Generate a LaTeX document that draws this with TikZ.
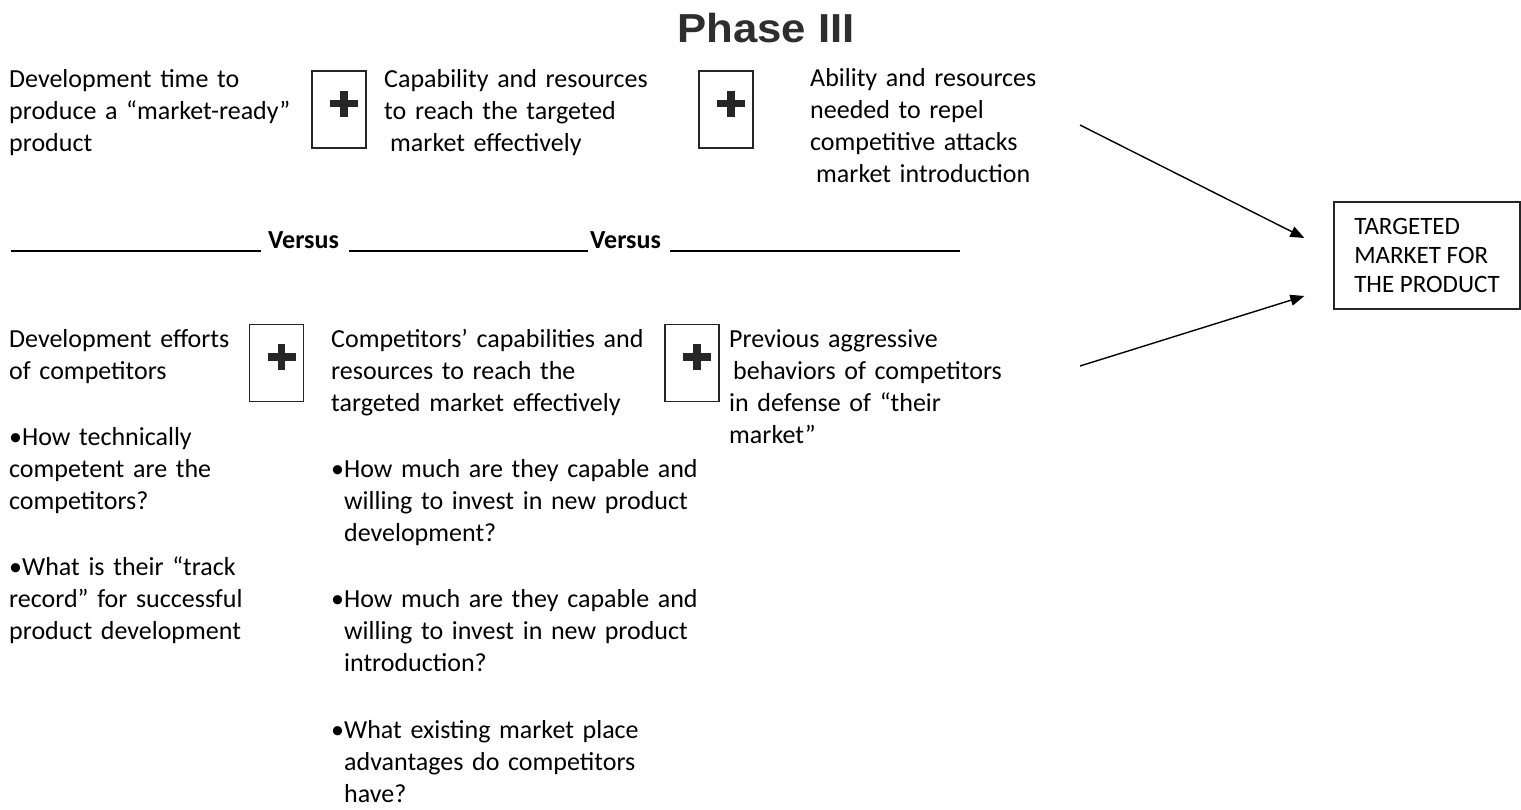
\documentclass[tikz,border=0pt]{standalone}
\usepackage{fontspec}
\setmainfont{Carlito}
\newfontfamily\titlefont{Liberation Sans}
\usetikzlibrary{arrows.meta,calc}

\begin{document}
\begin{tikzpicture}[x=1pt,y=-1pt,
  txt/.style={anchor=base west, inner sep=0pt, text width=420pt, align=left,
              font=\fontsize{26}{32}\selectfont},
  vs/.style={anchor=base west, inner sep=0pt, font=\fontsize{26}{32}\selectfont\bfseries},
  plusbox/.style={draw=black!85, line width=1.4, minimum width=54, minimum height=77,
    inner sep=0pt,
    path picture={
      \coordinate (pc) at ([shift={(5,-6)}]path picture bounding box.center);
      \draw[line width=7.5] ([xshift=-14pt]pc) -- ([xshift=14pt]pc)
                            ([yshift=-13pt]pc) -- ([yshift=13pt]pc);}},
  target/.style={draw=black!85, line width=1.3, minimum width=186, minimum height=107,
    inner sep=0pt, align=left, font=\fontsize{25}{29}\selectfont},
  conn/.style={line width=1.4, -{Triangle[length=14pt,width=11pt]}},
  rule/.style={line width=2.6}]

\useasboundingbox (0,0) rectangle (1521,809);

% heading
\node[anchor=base, inner sep=0pt, text=black!82] (title) at (766,42)
  {\titlefont\bfseries\fontsize{40.5}{44}\selectfont\scalebox{1.08}[1]{Phase III}};

% upper row: own capabilities
\node[txt] (own1) at (9,87) {Development time to\\produce a “market-ready”\\product};
\node[plusbox] (p1) at (339,109.5) {};
\node[txt] (own2) at (384,87) {Capability and resources\\to reach the targeted\\\hspace*{6pt}market effectively};
\node[plusbox] (p2) at (726,109.5) {};
\node[txt] (own3) at (810,86) {Ability and resources\\needed to repel\\competitive attacks\\\hspace*{6pt}market introduction};

% versus separator
\node[vs] (v1) at (268,248) {Versus};
\node[vs] (v2) at (590,248) {Versus};
\draw[rule] (11,251) -- (261,251);
\draw[rule] (349,251) -- (588,251);
\draw[rule] (670,251) -- (960,251);

% lower row: competitors
\node[txt] (comp1) at (9,347) {Development efforts\\of competitors};
\node[plusbox] (p3) at (276.5,363) {};
\node[txt] (comp2) at (331,347) {Competitors’ capabilities and\\resources to reach the\\targeted market effectively};
\node[plusbox] (p4) at (692,363) {};
\node[txt] (comp3) at (729,347) {Previous aggressive\\\hspace*{4pt}behaviors of competitors\\in defense of “their\\market”};

% questions under the competitor columns
\node[txt] (q1) at (9,445) {•How technically\\competent are the\\competitors?};
\node[txt] (q2) at (9,575) {•What is their “track\\record” for successful\\product development};
\node[txt] (q3) at (331,477) {•How much are they capable and\\\phantom{•}willing to invest in new product\\\phantom{•}development?};
\node[txt] (q4) at (331,607) {•How much are they capable and\\\phantom{•}willing to invest in new product\\\phantom{•}introduction?};
\node[txt] (q5) at (331,738) {•What existing market place\\\phantom{•}advantages do competitors\\\phantom{•}have?};

% target market
\node[target] (tgt) at (1427,255.5) {TARGETED\\MARKET FOR\\THE PRODUCT};

\coordinate (s1) at (1080,125);
\coordinate (s2) at (1080,366);
\draw[conn] (s1) -- ([shift={(-29,-17.5)}]tgt.west);
\draw[conn] (s2) -- ([shift={(-29,40.5)}]tgt.west);

\end{tikzpicture}
\end{document}
